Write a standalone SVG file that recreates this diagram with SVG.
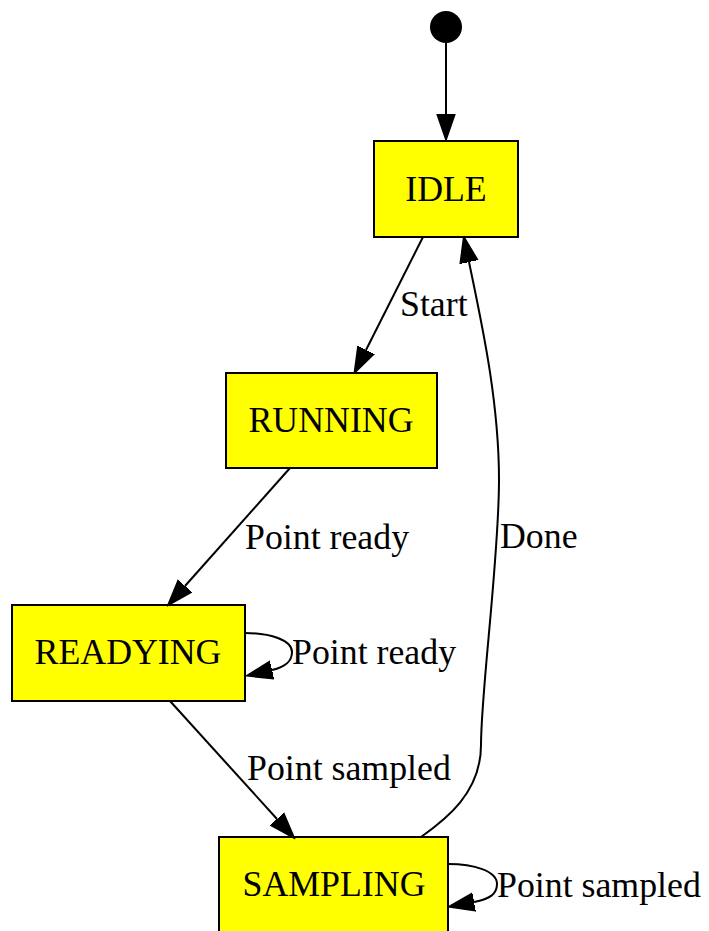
<svg xmlns="http://www.w3.org/2000/svg" width="709" height="931" viewBox="0 0 709 931">
<style>
.node rect{fill:#ffff00;stroke:#000;stroke-width:2}
text{font-family:"Liberation Serif","Times New Roman",serif;font-size:35.8px;fill:#000}
.nl{text-anchor:middle}
.edge{fill:none;stroke:#000;stroke-width:2;marker-end:url(#ah)}
</style>
<defs>
<marker id="ah" markerUnits="userSpaceOnUse" viewBox="0 0 27 20" refX="0" refY="10" markerWidth="27" markerHeight="20" orient="auto">
<path d="M0,1 L26,10 L0,19 Z" fill="#000" stroke="#000" stroke-width="1.5"/>
</marker>
</defs>
<rect width="709" height="931" fill="#fff"/>
<g id="init"><circle cx="446" cy="27" r="16" fill="#000"/></g>
<g id="IDLE" class="node"><rect x="374" y="141" width="144" height="96"/><text class="nl" x="446" y="201">IDLE</text></g>
<g id="RUNNING" class="node"><rect x="226" y="373" width="211" height="95"/><text class="nl" x="331" y="432">RUNNING</text></g>
<g id="READYING" class="node"><rect x="12" y="605" width="233" height="96"/><text class="nl" x="128" y="664">READYING</text></g>
<g id="SAMPLING" class="node"><rect x="219" y="837" width="229" height="100"/><text class="nl" x="334" y="896">SAMPLING</text></g>
<g id="edges">
<path class="edge" d="M446,43 L446,114"/>
<path class="edge" d="M423,237 L366,350"/>
<text x="400" y="316">Start</text>
<path class="edge" d="M290,468 L185,586"/>
<text x="245" y="549">Point ready</text>
<path class="edge" d="M245,633 C270,633 292,640 292,652 C292,662 285,667 272,670"/>
<text x="292" y="664">Point ready</text>
<path class="edge" d="M170,701 L277,819"/>
<text x="247" y="780">Point sampled</text>
<path class="edge" d="M448,864 C474,864 497,871 497,884 C497,894 490,899 474,902"/>
<text x="497" y="897">Point sampled</text>
<path class="edge" d="M421,837 C445,820 481,793 481,745 C481,690 499,560 499,480 C499,400 481,320 469,262"/>
<text x="500" y="548">Done</text>
</g>
</svg>
